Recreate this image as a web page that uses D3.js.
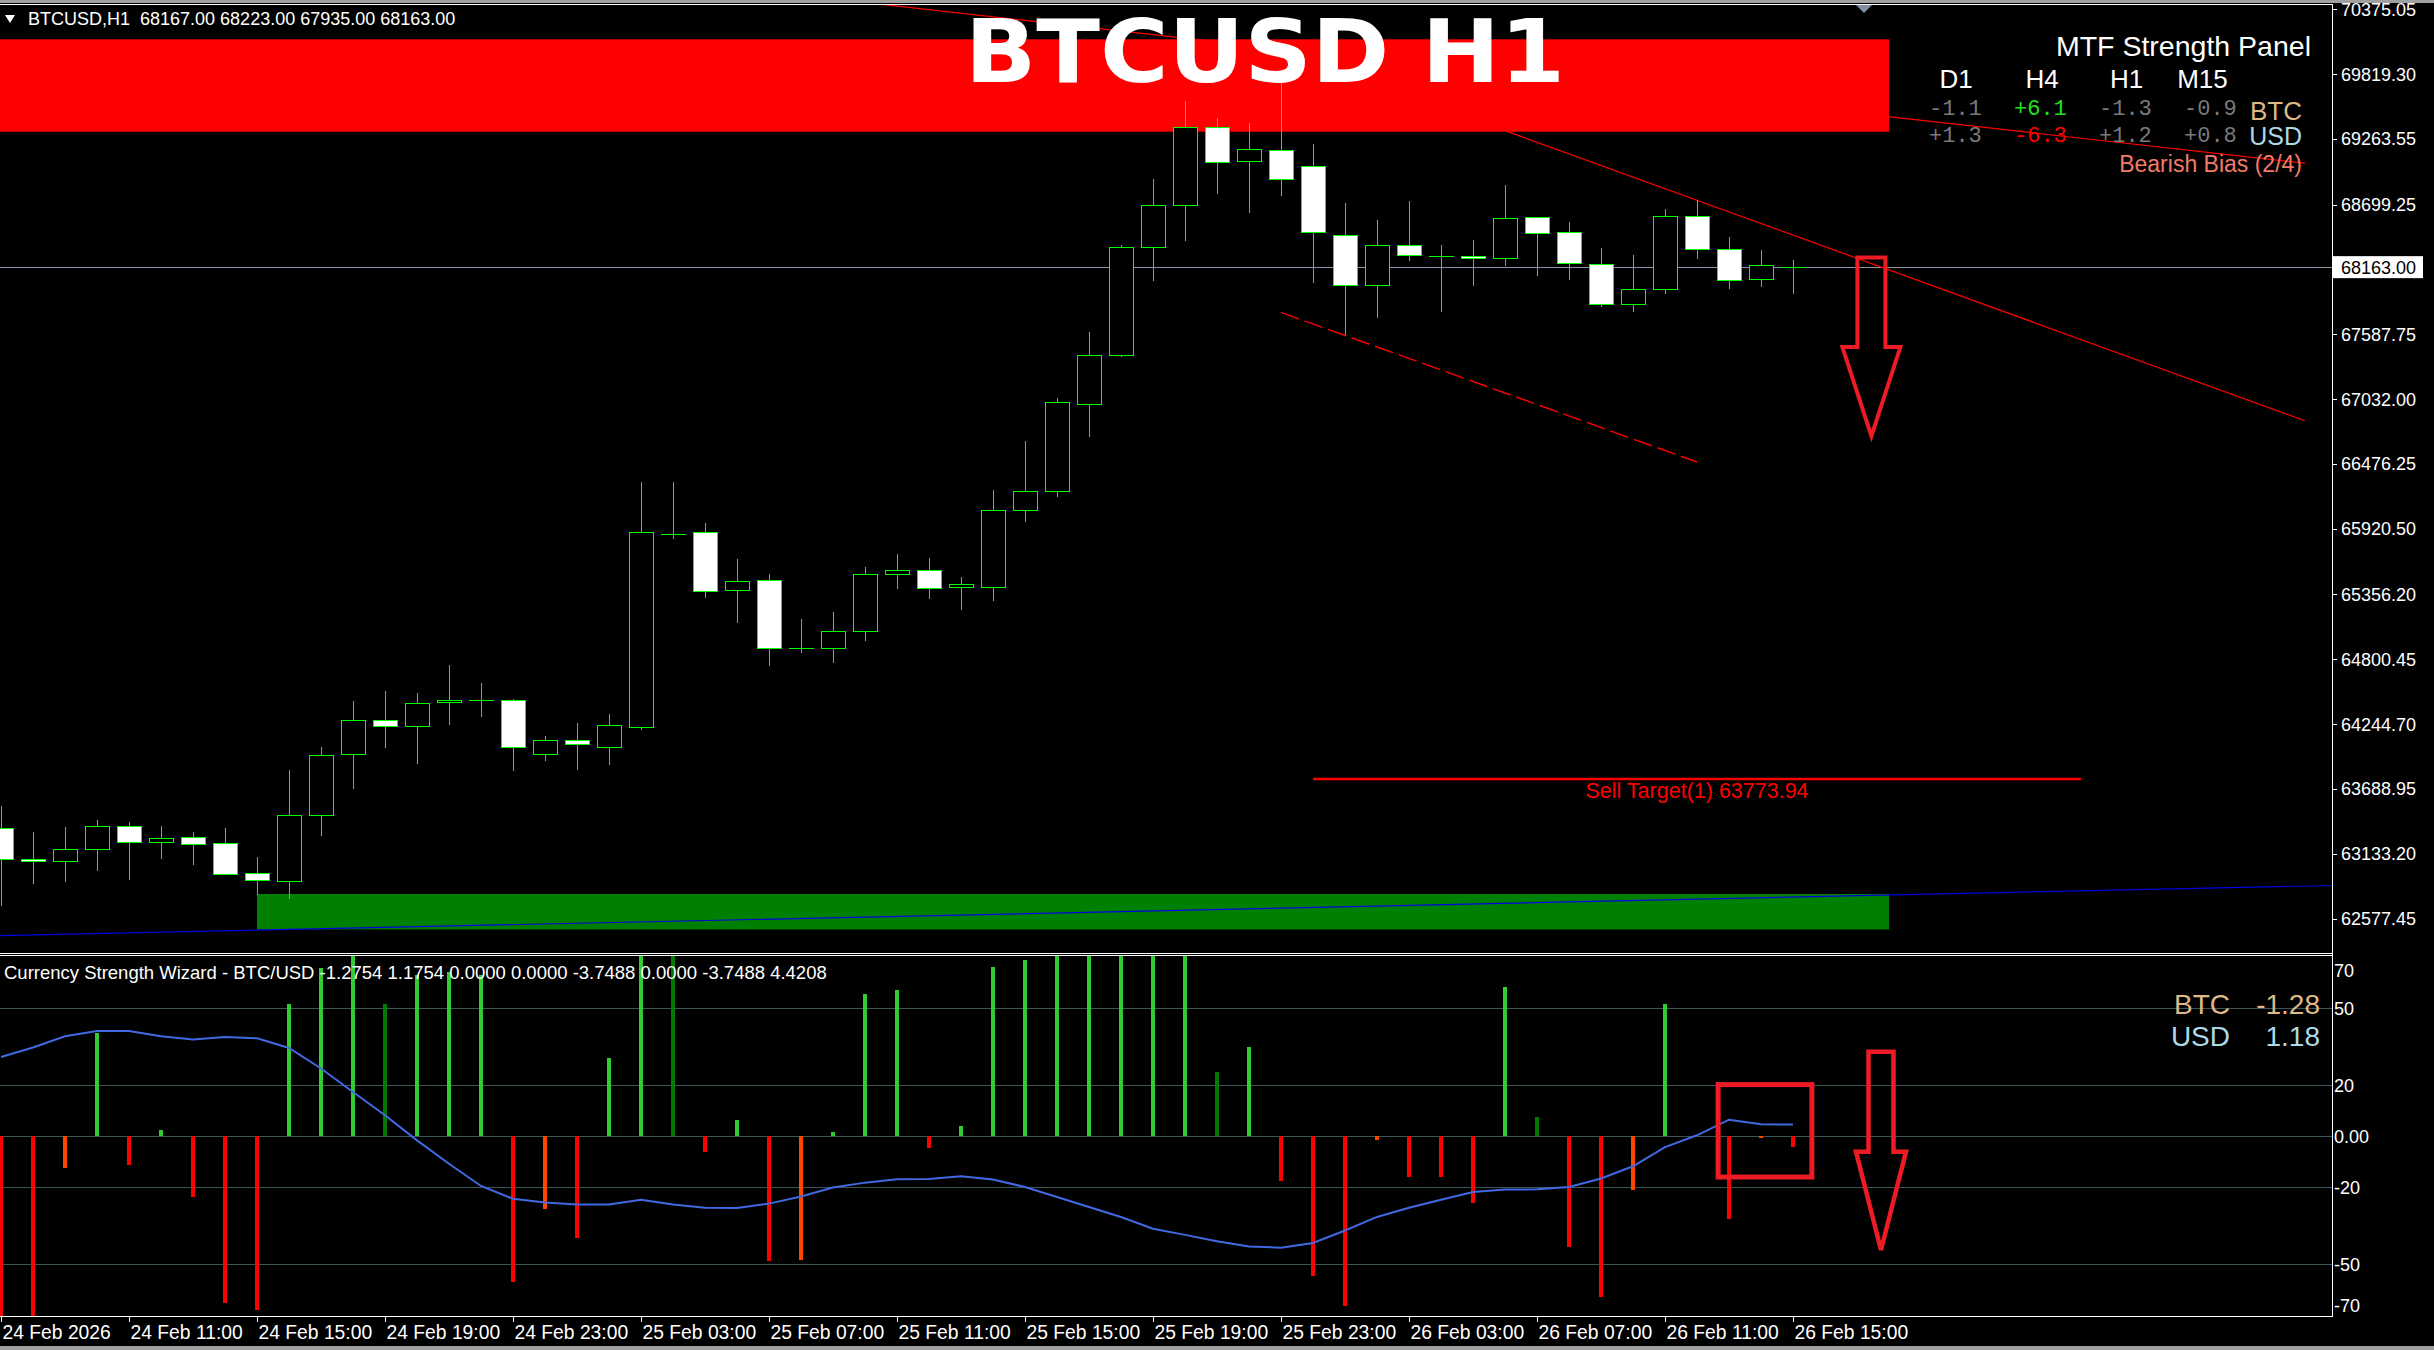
<!DOCTYPE html>
<html><head><meta charset="utf-8">
<script src="https://cdn.jsdelivr.net/npm/d3@7"></script>
<style>html,body{margin:0;padding:0;background:#000;overflow:hidden}</style>
</head><body>
<svg id="c" width="2434" height="1350"></svg>
<script>
// ---------------- DATA ----------------
const symbol = "BTCUSD,H1";
const lastOHLC = [68167.00, 68223.00, 67935.00, 68163.00];
const open  = [63351,63085,63068,63176,63368,63236,63274,63222,62965,62896,63462,63985,64277,64226,64431,64449,64451,63988,64108,64048,64220,65881,65889,65392,65478,64894,64894,65040,65529,65563,65420,65420,66078,66241,66987,67407,68333,68693,69362,69071,69165,69028,68436,68007,68350,68256,68256,68239,68591,68462,68187,67844,67973,68599,68316,68059,68167];
const high  = [63542,63319,63362,63422,63405,63370,63319,63353,63105,63851,64048,64443,64528,64511,64751,64597,64460,64142,64254,64331,66321,66321,65969,65660,65532,65146,65206,65592,65701,65669,65506,66254,66672,67041,67604,68353,68919,69588,69442,69399,69785,69219,68713,68567,68730,68353,68396,68867,68593,68550,68327,68267,68662,68739,68422,68310,68223];
const low   = [62687,62876,62890,62987,62910,63088,63036,62953,62779,62747,63287,63690,64042,63905,64239,64308,63842,63928,63851,63894,64194,65834,65328,65114,64745,64857,64771,64960,65406,65319,65223,65299,65980,66194,66709,67395,68047,68390,68793,68630,68776,68030,67579,67730,68218,67781,68004,68170,68090,68055,67824,67781,67935,68235,67978,67995,67935];
const close = [63085,63068,63171,63368,63236,63265,63219,62961,62905,63462,63977,64277,64226,64423,64449,64454,64048,64108,64074,64237,65892,65876,65383,65469,64894,64895,65040,65529,65563,65409,65446,66078,66241,67004,67407,68333,68693,69362,69062,69174,68916,68462,68007,68350,68265,68256,68239,68582,68453,68196,67844,67973,68599,68316,68050,68179,68163];

const priceTicks = [70375.05,69819.30,69263.55,68699.25,67587.75,67032.00,66476.25,65920.50,65356.20,64800.45,64244.70,63688.95,63133.20,62577.45];
const currentPrice = 68163.00;

const timeTickBars   = [0,4,8,12,16,20,24,28,32,36,40,44,48,52,56];
const timeTickLabels = ["24 Feb 2026","24 Feb 11:00","24 Feb 15:00","24 Feb 19:00","24 Feb 23:00","25 Feb 03:00","25 Feb 07:00","25 Feb 11:00","25 Feb 15:00","25 Feb 19:00","25 Feb 23:00","26 Feb 03:00","26 Feb 07:00","26 Feb 11:00","26 Feb 15:00"];

// indicator
const strengthHist = [-80,-80,-12.4,40.4,-11.3,2.6,-23.9,-65.2,-68.0,51.6,65.6,75,51.6,63,64.3,63,-57,-28.4,-39.8,30.6,75,75,-6.1,6.3,-48.9,-48.5,1.6,55.5,57,-4.6,3.9,66,68.8,75,75,75,75,75,25,34.8,-17.5,-54.4,-66.1,-1.6,-16,-16,-26.2,58.3,7.4,-43.3,-62.8,-21,51.6,0,-32.3,-0.8,-4.2];
const strengthKind = ['dn','dn','dnw','up','dn','up','dn','dn','dn','up','up','up','upw','up','up','up','dn','dnw','dn','up','up','upw','dn','up','dn','dnw','up','up','up','dn','up','up','up','up','up','up','up','up','upw','up','dn','dn','dn','dnw','dn','dn','dn','up','upw','dn','dn','dnw','up','up','dn','dnw','dn'];
const strengthLine = [31.0,34.7,39.1,41.1,41.1,39.1,37.8,38.8,38.3,34.5,26.5,17.3,8.2,-1.6,-10.7,-19.4,-24.4,-25.9,-26.6,-26.6,-24.8,-26.6,-27.9,-28.0,-26.3,-23.5,-20.0,-18.1,-16.8,-16.7,-15.6,-16.9,-19.8,-23.7,-27.6,-31.5,-36.1,-38.5,-41.0,-43.0,-43.5,-41.7,-36.8,-31.5,-27.9,-24.8,-21.8,-20.8,-20.7,-19.8,-16.5,-11.7,-4.2,0.4,6.5,4.7,4.6];
const indLevels = [50,20,0,-20,-50];
const indAxisTicks = [70,50,20,0,-20,-50,-70];
const indAxisLabels = ["70","50","20","0.00","-20","-50","-70"];
const indHeaderValues = [-1.2754,1.1754,0.0000,0.0000,-3.7488,0.0000,-3.7488,4.4208];
const currencyNames = ["BTC","USD"];
const currencyStrength = [-1.28,1.18];

// MTF panel
const mtfFrames = ["D1","H4","H1","M15"];
const mtfBTC = [-1.1,6.1,-1.3,-0.9];
const mtfUSD = [1.3,-6.3,1.2,0.8];
const biasText = "Bearish Bias (2/4)";

// chart objects (bar index, price)
const resistZone = {b0:-3, b1:59, p0:69324.5, p1:70116.9};
const supportZone = {b0:8, b1:59, p0:62483.8, p1:62787.4};
const trend1 = [[27,70432.5],[72,69054.4]];
const trend2 = [[40,70030.3],[72,66845.4]];
const trendDash = [[40,67774.9],[53,66491.9]];
const blueLine = [[-3,62412.6],[73,62861.2]];
const sellTarget = {b0:41, b1:65, price:63773.94, label:"Sell Target(1) 63773.94"};
const mainArrow = {bar:58.45, top:68245.7, shoulder:67478.2, tip:66714.9};
const indArrow = {bar:58.75, top:33.0, shoulder:-6.0, tip:-44.4};
const indBox = {b0:53.66, b1:56.59, v0:-15.9, v1:20.2};

// ---------------- DRAW ----------------
const ARIAL = "'Liberation Sans', Arial, sans-serif";
const W = 2434, H = 1350;
const axisX = 2332.5;
const mainTop = 4.5, mainBot = 953.5, indTop = 955.5, indBot = 1316.5;
const GREEN = "#00ff00";
const svg = d3.select('#c');

svg.append('rect').attr('width',W).attr('height',H).attr('fill','#000');
svg.append('rect').attr('x',0).attr('y',0).attr('width',W).attr('height',3).attr('fill','#a0a0a0');
svg.append('rect').attr('x',0).attr('y',1346).attr('width',W).attr('height',4).attr('fill','#a0a0a0');

const defs = svg.append('defs');
defs.append('clipPath').attr('id','mclip').append('rect').attr('x',0).attr('y',5).attr('width',2332).attr('height',948);
defs.append('clipPath').attr('id','iclip').append('rect').attr('x',0).attr('y',956).attr('width',2332).attr('height',360);

const xB = d3.scaleLinear().domain([0,56]).range([1,1793]);
const yP = d3.scaleLinear().domain([62577.45,70375.05]).range([918.5,9.2]);
const yI = d3.scaleLinear().domain([-50,50]).range([1264.3,1008.3]);

const main = svg.append('g').attr('clip-path','url(#mclip)');

// bid line
main.append('line').attr('x1',0).attr('x2',axisX).attr('y1',Math.round(yP(currentPrice))+0.5).attr('y2',Math.round(yP(currentPrice))+0.5)
  .attr('stroke','#8794a6').attr('stroke-width',1);

// support zone
main.append('rect').attr('x',xB(supportZone.b0)).attr('y',yP(supportZone.p1))
  .attr('width',xB(supportZone.b1)-xB(supportZone.b0)).attr('height',yP(supportZone.p0)-yP(supportZone.p1)).attr('fill','#008000');

const lineGen = d3.line().x(d=>xB(d[0])).y(d=>yP(d[1]));
main.append('path').attr('d',lineGen(blueLine)).attr('stroke','#0000e0').attr('stroke-width',1.2).attr('fill','none');
main.append('path').attr('d',lineGen(trend1)).attr('stroke','#ff0000').attr('stroke-width',1.2).attr('fill','none');
main.append('path').attr('d',lineGen(trend2)).attr('stroke','#ff0000').attr('stroke-width',1.2).attr('fill','none');
main.append('path').attr('d',lineGen(trendDash)).attr('stroke','#ff0000').attr('stroke-width',1.4).attr('stroke-dasharray','19 6').attr('fill','none');

// sell target
main.append('line').attr('x1',xB(sellTarget.b0)).attr('x2',xB(sellTarget.b1)).attr('y1',yP(sellTarget.price)).attr('y2',yP(sellTarget.price))
  .attr('stroke','#ff0000').attr('stroke-width',2.5);
main.append('text').attr('x',(xB(sellTarget.b0)+xB(sellTarget.b1))/2).attr('y',yP(sellTarget.price)+19.5)
  .attr('text-anchor','middle').attr('font-family',ARIAL).attr('font-size',21.5).attr('fill','#ff0000').text(sellTarget.label);

// resistance zone
main.append('rect').attr('x',xB(resistZone.b0)).attr('y',yP(resistZone.p1))
  .attr('width',xB(resistZone.b1)-xB(resistZone.b0)).attr('height',yP(resistZone.p0)-yP(resistZone.p1)).attr('fill','#ff0000');

// candles
const bars = d3.range(open.length).map(i=>({i,o:open[i],h:high[i],l:low[i],c:close[i]}));
const cg = main.append('g').attr('shape-rendering','crispEdges');
cg.selectAll('line.wick').data(bars).join('line').attr('class','wick')
  .attr('x1',d=>Math.round(xB(d.i))+0.5).attr('x2',d=>Math.round(xB(d.i))+0.5)
  .attr('y1',d=>Math.round(yP(d.h))).attr('y2',d=>Math.round(yP(d.l)))
  .attr('stroke',GREEN).attr('stroke-width',1);
bars.forEach(d=>{
  const cx = Math.round(xB(d.i));
  const yt = yP(Math.max(d.o,d.c)), yb = yP(Math.min(d.o,d.c));
  if (yb - yt < 1.5) {
    const ym = Math.round((yt+yb)/2)+0.5;
    cg.append('line').attr('x1',cx-12).attr('x2',cx+13).attr('y1',ym).attr('y2',ym).attr('stroke',GREEN).attr('stroke-width',1.5);
  } else {
    cg.append('rect').attr('x',cx-11.5).attr('y',Math.round(yt)+0.5).attr('width',24).attr('height',Math.round(yb)-Math.round(yt))
      .attr('fill',d.c>=d.o?'#000':'#fff').attr('stroke',GREEN).attr('stroke-width',1);
  }
});

// arrows
function arrowPath(cx, yTop, yShoulder, yTip, sh, hh){
  return `M${cx-sh},${yTop} L${cx+sh},${yTop} L${cx+sh},${yShoulder} L${cx+hh},${yShoulder} L${cx},${yTip} L${cx-hh},${yShoulder} L${cx-sh},${yShoulder} Z`;
}
main.append('path').attr('d',arrowPath(xB(mainArrow.bar),yP(mainArrow.top),yP(mainArrow.shoulder),yP(mainArrow.tip),14,29))
  .attr('fill','none').attr('stroke','#ed1c24').attr('stroke-width',4).attr('stroke-linejoin','miter');

// title
svg.append('text').attr('x',1265).attr('y',82).attr('text-anchor','middle')
  .attr('font-family',"'DejaVu Sans', Verdana, sans-serif").attr('font-weight','bold').attr('font-size',88)
  .attr('textLength',600).attr('lengthAdjust','spacingAndGlyphs').attr('fill','#fff').text("BTCUSD H1");

// MTF panel
svg.append('text').attr('x',2311).attr('y',56).attr('text-anchor','end').attr('font-family',ARIAL).attr('font-size',28.5).attr('fill','#fff').text("MTF Strength Panel");
const hdrX = [1956,2042,2126.5,2202.5];
const valX = [1929,2014,2099,2184];
mtfFrames.forEach((f,k)=>{
  svg.append('text').attr('x',hdrX[k]).attr('y',88).attr('text-anchor','middle').attr('font-family',ARIAL).attr('font-size',26).attr('fill','#fff').text(f);
});
const fmtS = v => (v>0?'+':'-')+Math.abs(v).toFixed(1);
const valColor = v => v>3?'#22e022':(v<-3?'#ff0000':'#7a7a7a');
[[mtfBTC,115],[mtfUSD,141.5]].forEach(([arr,yy])=>{
  arr.forEach((v,k)=>{
    svg.append('text').attr('x',valX[k]).attr('y',yy).attr('font-family',"'Liberation Mono','Courier New',monospace")
      .attr('font-size',22).attr('fill',valColor(v)).text(fmtS(v));
  });
});
svg.append('text').attr('x',2302).attr('y',120).attr('text-anchor','end').attr('font-family',ARIAL).attr('font-size',26).attr('fill','#deb887').text(currencyNames[0]);
svg.append('text').attr('x',2302).attr('y',145).attr('text-anchor','end').attr('font-family',ARIAL).attr('font-size',25).attr('fill','#add8e6').text(currencyNames[1]);
svg.append('text').attr('x',2302).attr('y',171.5).attr('text-anchor','end').attr('font-family',ARIAL).attr('font-size',23).attr('fill','#f47a68').text(biasText);

// header
svg.append('path').attr('d','M5,15 L15,15 L10,23 Z').attr('fill','#fff');
svg.append('text').attr('x',28).attr('y',25).attr('font-family',ARIAL).attr('font-size',18).attr('fill','#fff')
  .attr('xml:space','preserve').text(symbol+"  "+lastOHLC.map(v=>v.toFixed(2)).join(' '));

// chart-shift marker
svg.append('path').attr('d','M1856,5 L1872,5 L1864,13 Z').attr('fill','#8090a0');

// frame
const fr = svg.append('g').attr('shape-rendering','crispEdges').attr('stroke','#fff').attr('stroke-width',1);
fr.append('line').attr('x1',0).attr('x2',axisX).attr('y1',mainTop).attr('y2',mainTop);
fr.append('line').attr('x1',0).attr('x2',axisX).attr('y1',mainBot).attr('y2',mainBot);
fr.append('line').attr('x1',0).attr('x2',axisX).attr('y1',indTop).attr('y2',indTop);
fr.append('line').attr('x1',0).attr('x2',axisX).attr('y1',indBot).attr('y2',indBot);
fr.append('line').attr('x1',axisX).attr('x2',axisX).attr('y1',mainTop).attr('y2',indBot);

// price axis
const pa = svg.append('g');
priceTicks.forEach(p=>{
  const y = Math.round(yP(p))+0.5;
  pa.append('line').attr('x1',axisX).attr('x2',axisX+4).attr('y1',y).attr('y2',y).attr('stroke','#fff').attr('shape-rendering','crispEdges');
  pa.append('text').attr('x',2341).attr('y',yP(p)+6.5).attr('font-family',ARIAL).attr('font-size',18).attr('fill','#fff').text(p.toFixed(2));
});
pa.append('rect').attr('x',2333).attr('y',yP(currentPrice)-11).attr('width',90).attr('height',22).attr('fill','#fff');
pa.append('text').attr('x',2341).attr('y',yP(currentPrice)+6.5).attr('font-family',ARIAL).attr('font-size',18).attr('fill','#000').text(currentPrice.toFixed(2));

// ---------------- INDICATOR ----------------
const ind = svg.append('g').attr('clip-path','url(#iclip)');
ind.selectAll('line.lvl').data(indLevels).join('line').attr('class','lvl')
  .attr('x1',0).attr('x2',axisX).attr('y1',d=>Math.round(yI(d))+0.5).attr('y2',d=>Math.round(yI(d))+0.5)
  .attr('stroke','#3a5656').attr('stroke-width',1).attr('shape-rendering','crispEdges');
const kindColor = d3.scaleOrdinal().domain(['up','upw','dn','dnw']).range(['#32cd32','#007a00','#ff0000','#ff4500']);
ind.selectAll('rect.hb').data(strengthHist.map((v,i)=>({v,i,k:strengthKind[i]}))).join('rect').attr('class','hb')
  .attr('x',d=>Math.round(xB(d.i))-2).attr('width',4)
  .attr('y',d=>Math.min(yI(d.v),yI(0))).attr('height',d=>Math.abs(yI(d.v)-yI(0)))
  .attr('fill',d=>kindColor(d.k)).attr('shape-rendering','crispEdges');
ind.append('path').datum(strengthLine).attr('d',d3.line().x((d,i)=>xB(i)).y(d=>yI(d)))
  .attr('fill','none').attr('stroke','#4169e1').attr('stroke-width',2);
ind.append('rect').attr('x',xB(indBox.b0)).attr('y',yI(indBox.v1)).attr('width',xB(indBox.b1)-xB(indBox.b0)).attr('height',yI(indBox.v0)-yI(indBox.v1))
  .attr('fill','none').attr('stroke','#ed1c24').attr('stroke-width',5);
ind.append('path').attr('d',arrowPath(xB(indArrow.bar),yI(indArrow.top),yI(indArrow.shoulder),yI(indArrow.tip),12.5,25))
  .attr('fill','none').attr('stroke','#ed1c24').attr('stroke-width',4.5);

svg.append('text').attr('x',4).attr('y',978.5).attr('font-family',ARIAL).attr('font-size',18.5).attr('fill','#fff')
  .text("Currency Strength Wizard - BTC/USD "+indHeaderValues.map(v=>v.toFixed(4)).join(' '));

const cs = svg.append('g').attr('font-family',ARIAL).attr('font-size',28);
currencyNames.forEach((n,k)=>{
  const yy = k===0?1014:1046;
  const col = k===0?'#deb887':'#add8e6';
  cs.append('text').attr('x',2230).attr('y',yy).attr('text-anchor','end').attr('fill',col).text(n);
  cs.append('text').attr('x',2320).attr('y',yy).attr('text-anchor','end').attr('fill',col).text(currencyStrength[k].toFixed(2));
});

indAxisTicks.forEach((t,k)=>{
  let y = yI(t)+6.5;
  if (t===70) y = yI(t)+19.5;
  if (t===-70) y = yI(t)-3.5;
  svg.append('text').attr('x',2334).attr('y',y).attr('font-family',ARIAL).attr('font-size',18).attr('fill','#fff').text(indAxisLabels[k]);
});

// time axis
timeTickBars.forEach((b,k)=>{
  const x = Math.round(xB(b))+0.5;
  svg.append('line').attr('x1',x).attr('x2',x).attr('y1',indBot).attr('y2',indBot+5).attr('stroke','#fff').attr('shape-rendering','crispEdges');
  svg.append('text').attr('x',x+1).attr('y',1338.5).attr('font-family',ARIAL).attr('font-size',19.3).attr('fill','#fff').text(timeTickLabels[k]);
});
</script></body></html>
